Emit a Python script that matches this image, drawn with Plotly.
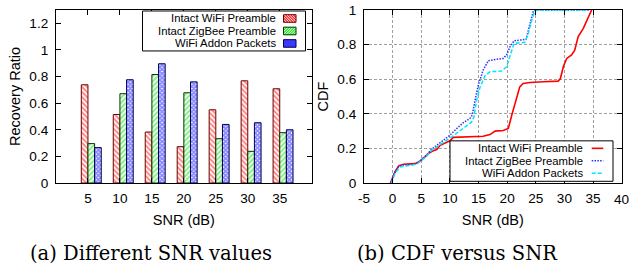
import plotly.graph_objects as go

# ---------------- data ----------------
snr = [5, 10, 15, 20, 25, 30, 35]
wifi_preamble = [0.738, 0.515, 0.383, 0.273, 0.55, 0.768, 0.708]
zigbee_preamble = [0.296, 0.671, 0.815, 0.678, 0.333, 0.238, 0.378]
addon_packets = [0.266, 0.776, 0.896, 0.760, 0.44, 0.453, 0.40]

series_names = ["Intact WiFi Preamble", "Intact ZigBee Preamble", "WiFi Addon Packets"]

cdf_wifi_x = [-0.4, 0.1, 0.5, 1.1, 1.9, 3.9, 4.9, 5.6, 6.3, 7.0, 7.7, 8.3, 9.4, 10.0, 10.6,
              12.9, 15.8, 17.0, 17.9, 19.3, 20.2, 20.8, 21.1, 21.7, 22.2, 22.8, 24.0, 26.3,
              28.9, 29.3, 29.8, 30.4, 31.25, 31.8, 32.4, 33.3, 33.9, 34.75]
cdf_wifi_y = [0.0, 0.04, 0.07, 0.1, 0.108, 0.112, 0.129, 0.15, 0.172, 0.185, 0.193, 0.218,
              0.232, 0.244, 0.264, 0.266, 0.27, 0.28, 0.3, 0.303, 0.315, 0.392, 0.43, 0.498,
              0.556, 0.575, 0.581, 0.585, 0.589, 0.604, 0.672, 0.72, 0.74, 0.768, 0.846,
              0.894, 0.942, 1.0]

cdf_zigbee_x = [-0.3, 0.23, 1.0, 1.75, 3.6, 4.3, 5.06, 5.9, 6.8, 8.0, 9.4, 10.0, 11.2, 12.3,
                13.5, 13.9, 14.4, 14.96, 15.8, 16.7, 17.9, 19.3, 19.9, 20.5, 21.2, 22.8, 23.3,
                24.0, 24.6, 25.1, 34.5]
cdf_zigbee_y = [0.0, 0.054, 0.093, 0.104, 0.108, 0.114, 0.137, 0.16, 0.195, 0.224, 0.257,
                0.276, 0.315, 0.347, 0.373, 0.392, 0.479, 0.566, 0.652, 0.707, 0.714, 0.72,
                0.74, 0.788, 0.822, 0.83, 0.83, 0.923, 0.996, 1.0, 1.0]

cdf_addon_x = [-0.2, 0.4, 1.3, 3.0, 4.2, 5.06, 5.9, 6.8, 8.0, 9.4, 10.3, 11.4, 12.6, 13.8,
               14.2, 14.67, 15.25, 16.1, 17.0, 19.0, 19.9, 20.5, 21.2, 23.1, 23.7, 24.3,
               24.85, 25.7, 34.2]
cdf_addon_y = [0.0, 0.054, 0.093, 0.104, 0.108, 0.131, 0.154, 0.189, 0.218, 0.247, 0.266,
               0.295, 0.324, 0.353, 0.382, 0.479, 0.552, 0.618, 0.643, 0.647, 0.672, 0.74,
               0.807, 0.813, 0.865, 0.942, 0.996, 1.0, 1.0]

left_yticks = [0, 0.2, 0.4, 0.6, 0.8, 1.0, 1.2]
left_yticktext = ["0", "0.2", "0.4", "0.6", "0.8", "1", "1.2"]
right_yticks = [0, 0.2, 0.4, 0.6, 0.8, 1.0]
right_yticktext = ["0", "0.2", "0.4", "0.6", "0.8", "1"]
right_xticks = [-5, 0, 5, 10, 15, 20, 25, 30, 35, 40]
right_xticktext = ["-5", "0", "5", "10", "15", "20", "25", "30", "35", "40"]

captions = ["(a) Different SNR values", "(b) CDF versus SNR"]

# ---------------- layout helpers ----------------
W, H = 629, 264
SANS = "Liberation Sans, Arial, sans-serif"

# plot areas in pixels
L_X0, L_X1 = 56, 311.7
R_X0, R_X1 = 364, 621.7
Y_TOP, Y_BOT = 9.5, 182.7
M_L, M_R, M_T, M_B = L_X0, 0, Y_TOP, H - Y_BOT
PW, PH = W - M_L - M_R, H - M_T - M_B


def fx(p):
    return (p - M_L) / PW


def fy(p):
    return (Y_BOT - p) / PH


def hatch_path(x0, y0, x1, y1, kind, step=2.6):
    """Pixel rect -> hatch path in paper coords (decoration for legend swatches)."""
    parts = []
    c = -(x1 - x0) - (y1 - y0)
    while c < 2 * ((x1 - x0) + (y1 - y0)):
        if kind == "\\":
            xa = max(0, -c)
            xb = min(x1 - x0, (y1 - y0) - c)
            if xb > xa:
                parts.append("M%.5f,%.5f L%.5f,%.5f" % (fx(x0 + xa), fy(y0 + xa + c),
                                                        fx(x0 + xb), fy(y0 + xb + c)))
        else:
            xa = max(0, c - (y1 - y0))
            xb = min(x1 - x0, c)
            if xb > xa:
                parts.append("M%.5f,%.5f L%.5f,%.5f" % (fx(x0 + xa), fy(y0 + c - xa),
                                                        fx(x0 + xb), fy(y0 + c - xb)))
        c += step
    return " ".join(parts)


fig = go.Figure()

bar_w = 1.04
bar_styles = [
    (wifi_preamble, -bar_w, "#ff1010", "#6a0000", "\\"),
    (zigbee_preamble, 0.0, "#10e010", "#003300", "/"),
    (addon_packets, bar_w, "#1010ff", "#000050", "x"),
]
for (vals, off, fg, edge, shp), name in zip(bar_styles, series_names):
    fig.add_trace(go.Bar(
        x=snr, y=vals, width=bar_w, offset=off, name=name, showlegend=False,
        xaxis="x", yaxis="y",
        marker=dict(color="white", line=dict(color=edge, width=1),
                    pattern=dict(shape=shp, fgcolor=fg, bgcolor="white",
                                 size=3.6 if shp != "x" else 3,
                                 solidity=0.55 if shp != "x" else 0.8)),
    ))

line_styles = [
    (cdf_wifi_x, cdf_wifi_y, "#ff0000", "solid", 1.6),
    (cdf_zigbee_x, cdf_zigbee_y, "#3030ff", "1.5px,1.3px", 1.5),
    (cdf_addon_x, cdf_addon_y, "#00e5ff", "4px,2px", 1.5),
]
for (xs, ys, col, dash, lw), name in zip(line_styles, series_names):
    fig.add_trace(go.Scatter(
        x=xs, y=ys, mode="lines", name=name, showlegend=False,
        xaxis="x2", yaxis="y2",
        line=dict(color=col, dash=dash, width=lw),
    ))

tick_font = dict(family=SANS, size=13.6, color="black")
axis_common = dict(showline=True, linecolor="black", linewidth=1, mirror="allticks",
                   ticks="inside", ticklen=5, tickcolor="black", zeroline=False,
                   automargin=False, ticklabeloverflow="allow", tickfont=tick_font)
title_font = dict(family=SANS, size=14.5, color="black")

# the last right-hand tick label sits on the page edge, where Plotly drops it;
# it is shown below as text anchored to x = 40 on the same axis
axis_labels_right = [t if v != right_xticks[-1] else "" for v, t in
                     zip(right_xticks, right_xticktext)]

fig.update_layout(
    width=W, height=H,
    margin=dict(l=M_L, r=M_R, t=M_T, b=M_B, autoexpand=False),
    paper_bgcolor="white", plot_bgcolor="white",
    barmode="overlay",
    xaxis=dict(domain=[0, fx(L_X1)], range=[0, 40], tickvals=snr,
               showgrid=False, anchor="y", ticklabelstandoff=3,
               title=dict(text="SNR (dB)", font=title_font, standoff=9), **axis_common),
    yaxis=dict(domain=[0, 1], range=[0, 1.3], tickvals=left_yticks,
               ticktext=left_yticktext, showgrid=False, anchor="x", ticklabelstandoff=4,
               title=dict(text="Recovery Ratio", font=title_font, standoff=5), **axis_common),
    xaxis2=dict(domain=[fx(R_X0), fx(R_X1)], range=[-5, 40], tickvals=right_xticks,
                ticktext=axis_labels_right,
                showgrid=True, gridcolor="#a0a0a0", griddash="3px,2px", gridwidth=1,
                anchor="y2", ticklabelstandoff=3,
                title=dict(text="SNR (dB)", font=title_font, standoff=9), **axis_common),
    yaxis2=dict(domain=[0, 1], range=[0, 1], tickvals=right_yticks,
                ticktext=right_yticktext, showgrid=True, gridcolor="#a0a0a0",
                griddash="3px,2px", gridwidth=1, anchor="x2", ticklabelstandoff=4,
                title=dict(text="CDF", font=title_font, standoff=5), **axis_common),
)

shapes = []
annotations = []
leg_font = dict(family=SANS, size=11.3, color="black")

# last tick label of the CDF x axis, placed through the x2 scale
annotations.append(dict(xref="x2", yref="paper", x=right_xticks[-1], y=fy(199.3),
                        text=right_xticktext[-1], xanchor="center", yanchor="middle",
                        showarrow=False, font=tick_font, borderpad=0))

# ---- left legend (text right-aligned, swatch on right) ----
left_rows = [18.0, 30.5, 43.0]
shapes.append(dict(type="rect", xref="paper", yref="paper", x0=fx(142.5), x1=fx(305.5),
                   y0=fy(50.5), y1=fy(10.5), line=dict(color="black", width=1),
                   fillcolor="white", layer="above"))
for row, name, (vals, off, fg, edge, shp) in zip(left_rows, series_names, bar_styles):
    annotations.append(dict(xref="paper", yref="paper", x=fx(277), y=fy(row), text=name,
                            xanchor="right", yanchor="middle", showarrow=False, font=leg_font,
                            borderpad=0))
    sx0, sx1, sy0, sy1 = 283.5, 296.0, row - 3.8, row + 3.8
    if shp == "x":
        shapes.append(dict(type="rect", xref="paper", yref="paper", x0=fx(sx0), x1=fx(sx1),
                           y0=fy(sy1), y1=fy(sy0), line=dict(color=edge, width=1),
                           fillcolor="#3a3aff", layer="above"))
    else:
        shapes.append(dict(type="rect", xref="paper", yref="paper", x0=fx(sx0), x1=fx(sx1),
                           y0=fy(sy1), y1=fy(sy0), line=dict(width=0),
                           fillcolor="white", layer="above"))
        shapes.append(dict(type="path", xref="paper", yref="paper",
                           path=hatch_path(sx0, sy0, sx1, sy1, shp),
                           line=dict(color=fg, width=1.1), layer="above"))
        shapes.append(dict(type="rect", xref="paper", yref="paper", x0=fx(sx0), x1=fx(sx1),
                           y0=fy(sy1), y1=fy(sy0), line=dict(color=edge, width=1),
                           fillcolor="rgba(0,0,0,0)", layer="above"))

# ---- right legend ----
right_rows = [148.0, 160.5, 173.0]
shapes.append(dict(type="rect", xref="paper", yref="paper", x0=fx(450), x1=fx(613),
                   y0=fy(181), y1=fy(140.5), line=dict(color="black", width=1),
                   fillcolor="white", layer="above"))
for row, name, (xs, ys, col, dash, lw) in zip(right_rows, series_names, line_styles):
    annotations.append(dict(xref="paper", yref="paper", x=fx(584), y=fy(row), text=name,
                            xanchor="right", yanchor="middle", showarrow=False, font=leg_font,
                            borderpad=0))
    shapes.append(dict(type="line", xref="paper", yref="paper", x0=fx(591.7), x1=fx(603.3),
                       y0=fy(row), y1=fy(row), line=dict(color=col, dash=dash, width=lw),
                       layer="above"))

# ---- captions ----
cap_font = dict(family="DejaVu Serif, serif", size=19.5, color="black")
for cx, txt in zip([150.5, 457.2], captions):
    annotations.append(dict(xref="paper", yref="paper", x=fx(cx), y=fy(253.5), text=txt,
                            xanchor="center", yanchor="middle", showarrow=False, font=cap_font))

fig.update_layout(shapes=shapes, annotations=annotations)

fig.write_html("out.html", config={"displayModeBar": False},
               post_script="document.body.style.margin='0';document.body.style.padding='0';")
